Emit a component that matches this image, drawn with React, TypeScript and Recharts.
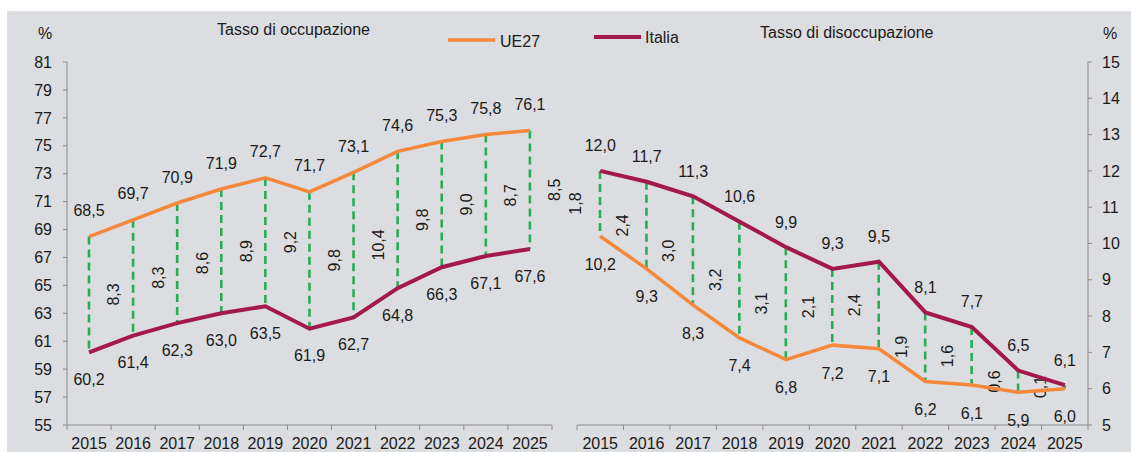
import { ComposedChart, Line, Bar, XAxis, YAxis, LabelList } from "recharts";

const years = ["2015", "2016", "2017", "2018", "2019", "2020", "2021", "2022", "2023", "2024", "2025"];

// Tasso di occupazione
const occUE = [68.5, 69.7, 70.9, 71.9, 72.7, 71.7, 73.1, 74.6, 75.3, 75.8, 76.1];
const occIta = [60.2, 61.4, 62.3, 63.0, 63.5, 61.9, 62.7, 64.8, 66.3, 67.1, 67.6];
const occGap = [8.3, 8.3, 8.6, 8.9, 9.2, 9.8, 10.4, 9.8, 9.0, 8.7, 8.5];
const occTicks = [55, 57, 59, 61, 63, 65, 67, 69, 71, 73, 75, 77, 79, 81];

// Tasso di disoccupazione
const disUE = [10.2, 9.3, 8.3, 7.4, 6.8, 7.2, 7.1, 6.2, 6.1, 5.9, 6.0];
const disIta = [12.0, 11.7, 11.3, 10.6, 9.9, 9.3, 9.5, 8.1, 7.7, 6.5, 6.1];
const disGap = [1.8, 2.4, 3.0, 3.2, 3.1, 2.1, 2.4, 1.9, 1.6, 0.6, 0.1];
const disTicks = [5, 6, 7, 8, 9, 10, 11, 12, 13, 14, 15];

const ORANGE = "#f5883a";
const WINE = "#a3194b";
const GREEN = "#26ad58";
const AXIS = "#8c8c8c";
const TEXT = "#1a1a1a";
const BG = "#dcdde0";
const FONT = "'Liberation Sans', Arial, sans-serif";

const occData = years.map((_, i) => ({
  idx: i,
  ue: occUE[i],
  ita: occIta[i],
  range: [occIta[i], occUE[i]],
  gap: occGap[i],
}));

const disData = years.map((_, i) => ({
  idx: i,
  ue: disUE[i],
  ita: disIta[i],
  range: [disUE[i], disIta[i]],
  gap: disGap[i],
}));

// integer ticks carry the year, half ticks mark the category boundaries
const xTicks = Array.from({ length: 23 }, (_, i) => i / 2 - 0.5);

const fmt = (v: number) => v.toFixed(1).replace(".", ",");

const XTick = (props: any) => {
  const { x, y, payload } = props;
  const v = payload.value;
  if (Number.isInteger(v)) {
    return (
      <text x={x} y={y + 13} dy="0.71em" textAnchor="middle" fill={TEXT} fontSize={16} fontFamily={FONT}>
        {years[v]}
      </text>
    );
  }
  return <line x1={x} x2={x} y1={y} y2={y + 5} stroke={AXIS} strokeWidth={1} />;
};

const pointLabel = (dy: number) => (props: any) => {
  const { x, y, value } = props;
  return (
    <text x={x} y={y + dy} textAnchor="middle" dominantBaseline="central" fill={TEXT} fontSize={16} fontFamily={FONT}>
      {fmt(value)}
    </text>
  );
};

const gapShape = (side: number) => (props: any) => {
  const { x, y, width, height, payload } = props;
  const cx = x + width / 2;
  const top = Math.min(y, y + height);
  const h = Math.abs(height);
  const lx = cx + side;
  const ly = top + h / 2;
  return (
    <g>
      <line x1={cx} x2={cx} y1={top} y2={top + h} stroke={GREEN} strokeWidth={2.6} strokeDasharray="8 5" />
      <text
        x={lx}
        y={ly}
        transform={`rotate(-90, ${lx}, ${ly})`}
        textAnchor="middle"
        dominantBaseline="central"
        fill={TEXT}
        fontSize={16}
        fontFamily={FONT}
      >
        {fmt(payload.gap)}
      </text>
    </g>
  );
};

const App = () => {
  return (
    <div
      style={{
        position: "absolute",
        left: 7,
        top: 11,
        width: 1124,
        height: 441,
        background: BG,
        fontFamily: FONT,
        overflow: "hidden",
      }}
    >
      <div style={{ position: "absolute", left: 0, top: 0 }}>
        <ComposedChart width={560} height={441} data={occData} margin={{ top: 51, right: 15, bottom: 0, left: 0 }}>
          <XAxis
            dataKey="idx"
            type="number"
            domain={[-0.5, 10.5]}
            ticks={xTicks}
            interval={0}
            tickLine={false}
            tickSize={0}
            tickMargin={0}
            height={27}
            axisLine={{ stroke: AXIS }}
            tick={XTick}
          />
          <YAxis
            domain={[55, 81]}
            ticks={occTicks}
            interval={0}
            width={60}
            tickSize={4}
            tickMargin={11}
            axisLine={{ stroke: AXIS }}
            tickLine={{ stroke: AXIS }}
            tick={{ fill: TEXT, fontSize: 16, fontFamily: FONT }}
          />
          <Bar dataKey="range" barSize={4} fill="none" isAnimationActive={false} shape={gapShape(25)} />
          <Line type="linear" dataKey="ue" stroke={ORANGE} strokeWidth={3.5} dot={false} isAnimationActive={false}>
            <LabelList dataKey="ue" content={pointLabel(-26)} />
          </Line>
          <Line type="linear" dataKey="ita" stroke={WINE} strokeWidth={4} dot={false} isAnimationActive={false}>
            <LabelList dataKey="ita" content={pointLabel(27)} />
          </Line>
        </ComposedChart>
      </div>
      <div style={{ position: "absolute", left: 560, top: 0 }}>
        <ComposedChart width={564} height={441} data={disData} margin={{ top: 51, right: 0, bottom: 0, left: 10 }}>
          <XAxis
            dataKey="idx"
            type="number"
            domain={[-0.5, 10.5]}
            ticks={xTicks}
            interval={0}
            tickLine={false}
            tickSize={0}
            tickMargin={0}
            height={27}
            axisLine={{ stroke: AXIS }}
            tick={XTick}
          />
          <YAxis
            orientation="right"
            domain={[5, 15]}
            ticks={disTicks}
            interval={0}
            width={43}
            tickSize={4}
            tickMargin={10}
            axisLine={{ stroke: AXIS }}
            tickLine={{ stroke: AXIS }}
            tick={{ fill: TEXT, fontSize: 16, fontFamily: FONT }}
          />
          <Bar dataKey="range" barSize={4} fill="none" isAnimationActive={false} shape={gapShape(-24)} />
          <Line type="linear" dataKey="ue" stroke={ORANGE} strokeWidth={3.5} dot={false} isAnimationActive={false}>
            <LabelList dataKey="ue" content={pointLabel(28)} />
          </Line>
          <Line type="linear" dataKey="ita" stroke={WINE} strokeWidth={4} dot={false} isAnimationActive={false}>
            <LabelList dataKey="ita" content={pointLabel(-25)} />
          </Line>
        </ComposedChart>
      </div>
      <svg width={1124} height={441} style={{ position: "absolute", left: 0, top: 0, pointerEvents: "none" }}>
        <g fill={TEXT} fontSize={16} fontFamily={FONT}>
          <text x={38} y={22} textAnchor="middle" dominantBaseline="central">%</text>
          <text x={210} y={18} dominantBaseline="central">Tasso di occupazione</text>
          <line x1={441} x2={488} y1={29} y2={29} stroke={ORANGE} strokeWidth={3.5} />
          <text x={493} y={30} dominantBaseline="central">UE27</text>
          <line x1={587} x2={634} y1={26} y2={26} stroke={WINE} strokeWidth={4} />
          <text x={638} y={26} dominantBaseline="central">Italia</text>
          <text x={753} y={21} dominantBaseline="central">Tasso di disoccupazione</text>
          <text x={1103} y={22} textAnchor="middle" dominantBaseline="central">%</text>
        </g>
      </svg>
    </div>
  );
};

export default App;
